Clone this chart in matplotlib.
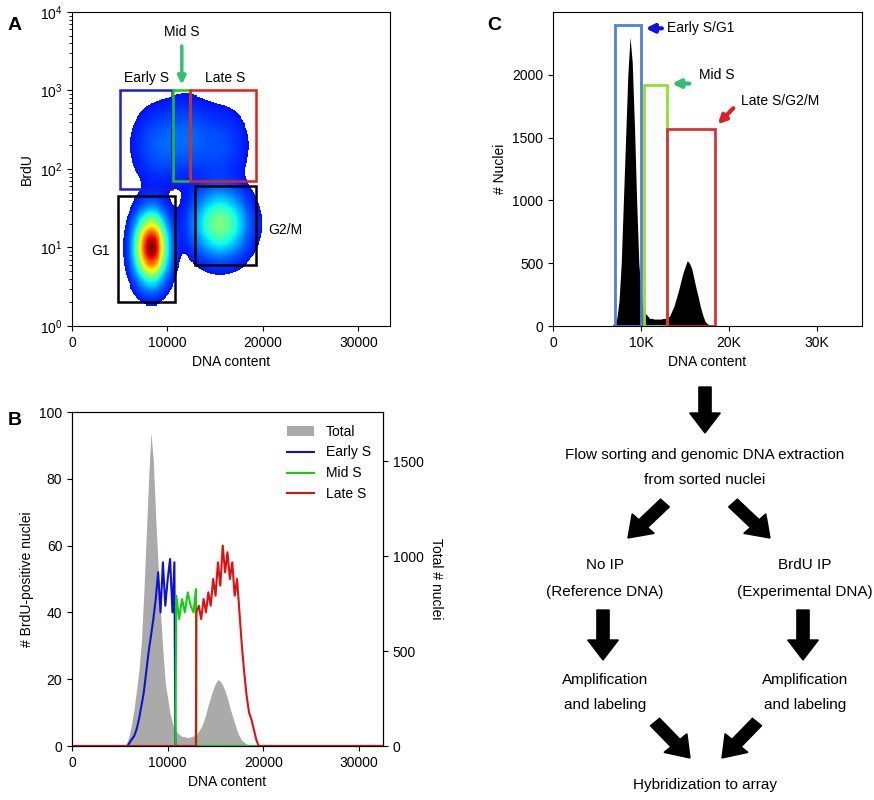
import numpy as np
import matplotlib
matplotlib.use("Agg")
import matplotlib.pyplot as plt
from matplotlib.patches import Rectangle, FancyArrow
from matplotlib.colors import ListedColormap

plt.rcParams['font.family'] = ['Liberation Sans', 'DejaVu Sans']
W, H = 874, 800
fig = plt.figure(figsize=(8.74, 8.0), dpi=100)

def ax_px(x0, y0, x1, y1):
    return fig.add_axes([x0 / W, 1 - y1 / H, (x1 - x0) / W, (y1 - y0) / H])

def ftext(x, y, s, **kw):
    fig.text(x / W, 1 - y / H, s, **kw)

# ---------------- data ----------------
# Panel A: population clusters (centre DNA, centre log10 BrdU, sd DNA, sd log, weight)
clusters_dna = [8300, 15500, 9000, 12000, 15500]
clusters_logb = [1.0, 1.3, 2.3, 2.4, 2.3]
clusters_sdx = [1000, 1700, 1600, 1500, 1800]
clusters_sdy = [0.25, 0.25, 0.3, 0.3, 0.3]
clusters_w = [1.0, 0.35, 0.06, 0.06, 0.05]
gates_a = {"Early S": (5000, 10500, 55, 1000, "#1f1fd0"),
           "Mid S": (10600, 12400, 70, 1000, "#22c022"),
           "Late S": (12400, 19300, 70, 1000, "#e02020"),
           "G1": (4800, 10800, 2, 45, "black"),
           "G2/M": (12900, 19300, 6, 60, "black")}

# Panel B
b_x = np.arange(5000, 20001, 250)
total = [0, 0, 0, 20, 60, 120, 200, 300, 400, 550, 800, 1100, 1400, 1650, 1500, 1200, 950, 700,
         500, 330, 250, 170, 120, 90, 70, 60, 50, 50, 45, 45, 50, 55, 60, 80, 100, 130, 170,
         220, 260, 300, 330, 350, 340, 320, 290, 250, 200, 160, 120, 80, 50, 30, 20, 10, 5,
         0, 0, 0, 0, 0, 0]
early_x = [5800, 6250, 6500, 6750, 7000, 7250, 7500, 7750, 8000, 8250, 8500, 8750, 9000, 9250,
           9500, 9750, 10000, 10250, 10500, 10700, 10800]
early_y = [0, 2, 3, 5, 8, 12, 16, 22, 28, 33, 38, 44, 52, 40, 55, 42, 50, 56, 40, 55, 0]
mid_x = [10800, 10900, 11200, 11500, 11800, 12100, 12400, 12700, 12950, 13000]
mid_y = [0, 45, 38, 44, 40, 46, 42, 40, 47, 0]
late_x = [12950, 13000, 13250, 13500, 13750, 14000, 14250, 14500, 14750, 15000, 15250, 15500,
          15750, 16000, 16250, 16500, 16750, 17000, 17250, 17500, 17750, 18000, 18250, 18500,
          18750, 19000, 19250, 19500]
late_y = [0, 40, 42, 38, 44, 40, 46, 42, 50, 45, 55, 48, 60, 52, 58, 50, 55, 45, 50, 40, 30,
          22, 15, 10, 8, 5, 2, 0]

# Panel C
c_x = np.arange(6500, 18751, 250)
c_y = [0, 5, 20, 60, 200, 500, 1000, 1500, 2000, 2300, 2100, 1600, 1000, 500, 250, 130, 100,
       80, 60, 60, 55, 55, 55, 55, 60, 60, 65, 80, 120, 160, 220, 280, 350, 420, 470, 520, 500,
       460, 380, 300, 230, 150, 90, 40, 20, 10, 5, 2, 0, 0]
gates_c = [(7000, 10000, 2400, "#4f7fe0", "Early S/G1", "#1010e0"),
           (10300, 13000, 1920, "#90e030", "Mid S", "#30c070"),
           (13000, 18400, 1570, "#e03030", "Late S/G2/M", "#e02020")]

# ---------------- Panel A ----------------
axA = ax_px(72, 12, 390, 326)
gx = np.linspace(0, 33300, 330)
gy = np.linspace(0, 4, 300)
X, Y = np.meshgrid(gx, gy)
D = np.zeros_like(X)
for cx, cy, sx, sy, w in zip(clusters_dna, clusters_logb, clusters_sdx, clusters_sdy, clusters_w):
    D += w * np.exp(-0.5 * (((X - cx) / sx) ** 2 + ((Y - cy) / sy) ** 2))
D = np.ma.masked_less(D, 0.012)
jet = plt.get_cmap('jet')
cmapA = ListedColormap(jet(np.linspace(0.12, 1.0, 256)))
axA.pcolormesh(X, 10 ** Y, D ** 0.8, cmap=cmapA, shading='auto', vmin=0, vmax=1)
axA.set_yscale('log')
axA.set_xlim(0, 33300)
axA.set_ylim(1, 1e4)
axA.set_xticks([0, 10000, 20000, 30000])
axA.set_xlabel("DNA content", fontsize=10)
axA.set_ylabel("BrdU", fontsize=10)
for name, (x0, x1, y0, y1, c) in gates_a.items():
    axA.add_patch(Rectangle((x0, y0), x1 - x0, y1 - y0, fill=False, ec=c, lw=1.8))
axA.text(7800, 1300, "Early S", ha='center', fontsize=10)
axA.text(16000, 1300, "Late S", ha='center', fontsize=10)
axA.text(3000, 8, "G1", ha='center', fontsize=10)
axA.text(20500, 15, "G2/M", ha='left', fontsize=10)
axA.text(11500, 5000, "Mid S", ha='center', fontsize=10)
axA.annotate("", xy=(11500, 1100), xytext=(11500, 4000),
             arrowprops=dict(arrowstyle='-|>', color='#30c070', lw=2.5, mutation_scale=12))

# ---------------- Panel B ----------------
axB = ax_px(72, 412, 383, 746)
axB2 = axB.twinx()
axB2.fill_between(b_x, total, color='#aaaaaa', lw=0, label="Total")
axB2.set_ylim(0, 1758)
axB2.set_yticks([0, 500, 1000, 1500])
axB2.set_ylabel("Total # nuclei", fontsize=10, rotation=270, labelpad=14)
axB.set_zorder(axB2.get_zorder() + 1)
axB.patch.set_visible(False)
axB.plot([0] + early_x + [33000], [0] + early_y + [0], color='#1010d0', lw=1.5, label="Early S")
axB.plot([0] + mid_x + [33000], [0] + mid_y + [0], color='#10d010', lw=1.5, label="Mid S")
axB.plot([0] + late_x + [33000], [0] + late_y + [0], color='#e01010', lw=1.5, label="Late S")
axB.set_xlim(0, 32500)
axB.set_ylim(0, 100)
axB.set_xticks([0, 10000, 20000, 30000])
axB.set_xlabel("DNA content", fontsize=10)
axB.set_ylabel("# BrdU-positive nuclei", fontsize=10)
h1, l1 = axB2.get_legend_handles_labels()
h2, l2 = axB.get_legend_handles_labels()
axB.legend(h1 + h2, l1 + l2, loc='upper right', frameon=False, fontsize=10)

# ---------------- Panel C ----------------
axC = ax_px(553, 12, 862, 326)
axC.fill_between(c_x, c_y, color='black', lw=0)
axC.set_xlim(0, 35100)
axC.set_ylim(0, 2500)
axC.set_xticks([0, 10000, 20000, 30000])
axC.set_xticklabels(["0", "10K", "20K", "30K"])
axC.set_yticks([0, 500, 1000, 1500, 2000])
axC.set_xlabel("DNA content", fontsize=10)
axC.set_ylabel("# Nuclei", fontsize=10)
for x0, x1, top, ec, lab, ac in gates_c:
    axC.add_patch(Rectangle((x0, 0), x1 - x0, top, fill=False, ec=ec, lw=2))
    if lab == "Late S/G2/M":
        axC.annotate("", xy=(x1 + 100, top + 20), xytext=(x1 + 2300, top + 180),
                     arrowprops=dict(arrowstyle='-|>', color=ac, lw=3, mutation_scale=12))
        axC.text(x1 + 3000, top + 220, lab, fontsize=10, va='center', ha='left')
    elif lab == "Mid S":
        axC.annotate("", xy=(x1 + 200, top + 10), xytext=(x1 + 2800, top + 10),
                     arrowprops=dict(arrowstyle='-|>', color=ac, lw=3, mutation_scale=12))
        axC.text(x1 + 3600, top + 80, lab, fontsize=10, va='center', ha='left')
    else:
        axC.annotate(lab, xy=(x1 + 200, top - 30), xytext=(x1 + 3000, top - 30),
                     fontsize=10, va='center',
                     arrowprops=dict(arrowstyle='-|>', color=ac, lw=3, mutation_scale=12))
for a in (axA, axB, axB2, axC):
    a.tick_params(labelsize=10)

ftext(8, 30, "A", fontsize=14, fontweight='bold')
ftext(8, 425, "B", fontsize=14, fontweight='bold')
ftext(487, 30, "C", fontsize=14, fontweight='bold')

# ---------------- Flowchart ----------------
def arrow(x0, y0, x1, y1):
    fig.patches.append(FancyArrow(x0 / W, 1 - y0 / H, (x1 - x0) / W, -(y1 - y0) / H,
                                  width=0.014, head_width=0.035, head_length=0.025,
                                  length_includes_head=True, color='black',
                                  transform=fig.transFigure))
arrow(705, 387, 705, 433)
ftext(705, 455, "Flow sorting and genomic DNA extraction", ha='center', va='center', fontsize=11)
ftext(705, 480, "from sorted nuclei", ha='center', va='center', fontsize=11)
arrow(665, 503, 628, 538)
arrow(733, 503, 770, 538)
ftext(605, 565, "No IP", ha='center', va='center', fontsize=11)
ftext(605, 592, "(Reference DNA)", ha='center', va='center', fontsize=11)
ftext(805, 565, "BrdU IP", ha='center', va='center', fontsize=11)
ftext(805, 592, "(Experimental DNA)", ha='center', va='center', fontsize=11)
arrow(603, 610, 603, 660)
arrow(803, 610, 803, 660)
ftext(605, 680, "Amplification", ha='center', va='center', fontsize=11)
ftext(605, 705, "and labeling", ha='center', va='center', fontsize=11)
ftext(805, 680, "Amplification", ha='center', va='center', fontsize=11)
ftext(805, 705, "and labeling", ha='center', va='center', fontsize=11)
arrow(655, 722, 690, 758)
arrow(757, 722, 722, 758)
ftext(705, 785, "Hybridization to array", ha='center', va='center', fontsize=11)

fig.savefig("out.png", dpi=100)
